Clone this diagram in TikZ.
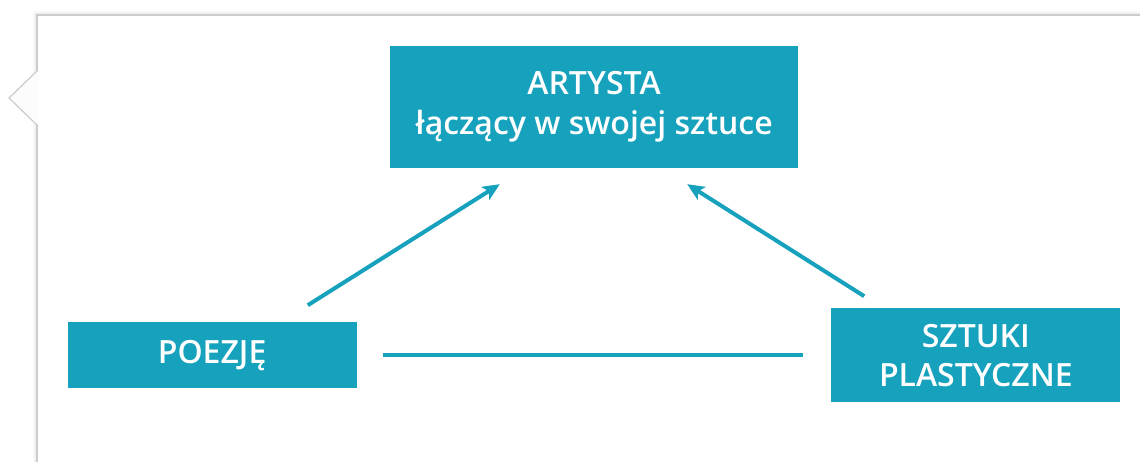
\documentclass[tikz,border=0pt]{standalone}
\usepackage{fontspec}
\setmainfont{Open Sans}
\newfontfamily\boxfont{Open Sans Semibold}
\usetikzlibrary{arrows.meta,positioning}
\definecolor{boxblue}{RGB}{22,161,189}
\tikzset{
  box/.style={fill=boxblue,text=white,shape=rectangle,inner sep=0pt,align=center,
    minimum width=289pt,font=\boxfont\fontsize{32}{38.5}\selectfont},
  conn/.style={draw=boxblue,line width=4pt},
  arr/.style={conn,-{Stealth[length=17pt,width=15pt,inset=4pt]}}
}
\begin{document}
\begin{tikzpicture}[x=1pt,y=-1pt]
      \useasboundingbox (0,0) rectangle (1140,461);
      \fill[white] (0,0) rectangle (1140,461);
      %
      \foreach \s/\o in {1/0.10,2/0.06,3/0.04,4/0.02}
        \draw[black,opacity=\o,line width=1pt] (37-\s,470) -- (37-\s,15-\s) -- (1150,15-\s);
      \draw[draw=black!20,line width=1.2pt,fill=white] (37,470) -- (37,15) -- (1150,15);
      \draw[draw=black!20,line width=1.2pt,fill=black!1] (38,70) -- (9,98) -- (38,126);
      %
      \node[box,minimum width=408pt,minimum height=122pt,font=\boxfont\fontsize{32}{40}\selectfont] (art) at (594,107) {ARTYSTA\\łączący w swojej sztuce};
      \node[box,minimum height=66pt,below left=154pt and 33pt of art.south west] (poe) {POEZJĘ};
      \node[box,minimum height=94pt,below right=140pt and 33pt of art.south east] (szt) {SZTUKI\\PLASTYCZNE};
      %
      \draw[arr] ([xshift=-49pt,yshift=17pt]poe.north east) -- ([xshift=110pt,yshift=-16pt]art.south west);
      \draw[arr] ([xshift=33pt,yshift=12pt]szt.north west) -- ([xshift=-111pt,yshift=-16pt]art.south east);
      \draw[conn,shorten <=26pt,shorten >=28pt] (poe) -- (szt);
      %
\end{tikzpicture}
\end{document}
